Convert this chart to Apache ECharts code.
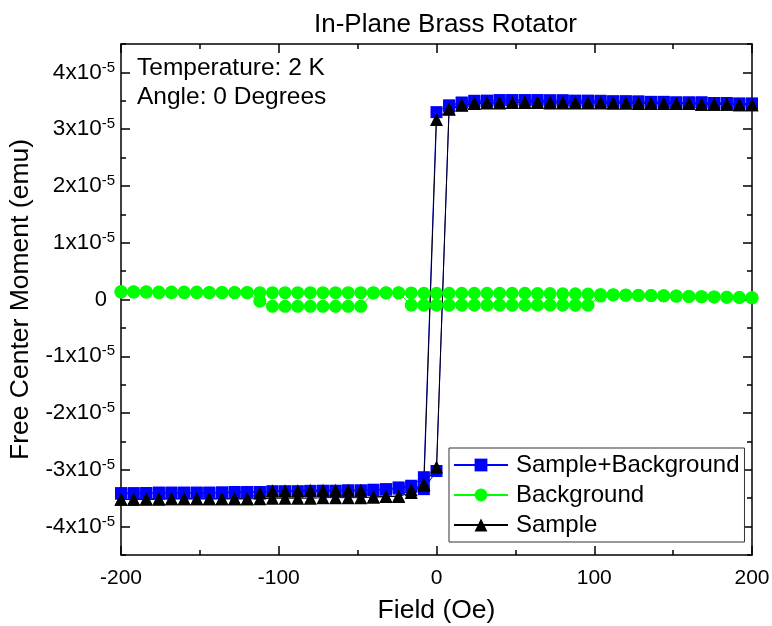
<!DOCTYPE html>
<html><head><meta charset="utf-8">
<script src="https://cdn.jsdelivr.net/npm/echarts@6/dist/echarts.min.js"></script>
<style>html,body{margin:0;padding:0;background:#fff}#c{width:772px;height:626px}</style>
</head><body><div id="c"></div>
<script>
// Field sweeps (Oe)
const fieldDown = [200,192,184,176,168,160,152,144,136,128,120,112,104,96,88,80,72,64,56,48,40,32,24,16,8,0,-8,-16,-24,-32,-40,-48,-56,-64,-72,-80,-88,-96,-104,-112,-120,-128,-136,-144,-152,-160,-168,-176,-184,-192,-200];
const fieldUp = [-200,-192,-184,-176,-168,-160,-152,-144,-136,-128,-120,-112,-104,-96,-88,-80,-72,-64,-56,-48,-40,-32,-24,-16,-8,0,8,16,24,32,40,48,56,64,72,80,88,96,104,112,120,128,136,144,152,160,168,176,184,192,200];

// Moments, in units of 1e-5 emu
const sampleBgDown = [3.45,3.45,3.46,3.46,3.47,3.47,3.47,3.48,3.48,3.48,3.49,3.49,3.49,3.50,3.50,3.50,3.50,3.51,3.51,3.51,3.51,3.50,3.50,3.47,3.42,3.30,-3.13,-3.28,-3.31,-3.34,-3.35,-3.36,-3.36,-3.37,-3.37,-3.37,-3.38,-3.38,-3.38,-3.39,-3.39,-3.39,-3.40,-3.40,-3.40,-3.40,-3.40,-3.40,-3.41,-3.41,-3.41];
const sampleBgUp = [-3.42,-3.42,-3.41,-3.41,-3.41,-3.41,-3.41,-3.41,-3.40,-3.40,-3.40,-3.39,-3.38,-3.38,-3.38,-3.38,-3.37,-3.37,-3.37,-3.37,-3.36,-3.35,-3.33,-3.30,-3.34,-3.02,3.40,3.46,3.49,3.50,3.51,3.51,3.51,3.51,3.51,3.51,3.50,3.50,3.50,3.49,3.49,3.49,3.48,3.48,3.47,3.47,3.47,3.46,3.46,3.45,3.45];

const backgroundDown = [0.03,0.035,0.04,0.045,0.05,0.055,0.06,0.065,0.07,0.075,0.08,0.085,0.09,0.095,0.10,0.10,0.105,0.105,0.11,0.11,0.11,0.11,0.11,0.11,0.11,0.11,0.11,0.115,0.115,0.115,0.115,0.12,0.12,0.12,0.12,0.12,0.12,0.12,0.12,0.12,0.125,0.125,0.125,0.125,0.13,0.13,0.13,0.13,0.135,0.135,0.14];
const backgroundUp = [0.13,0.13,0.13,0.12,0.12,0.12,0.12,0.12,0.12,0.12,0.12,-0.03,-0.12,-0.12,-0.12,-0.12,-0.12,-0.12,-0.12,-0.12,0.12,0.12,0.12,-0.10,-0.10,-0.10,-0.10,-0.10,-0.10,-0.10,-0.10,-0.10,-0.10,-0.10,-0.10,-0.10,-0.10,-0.10,0.06,0.08,0.075,0.07,0.07,0.065,0.06,0.055,0.05,0.045,0.04,0.035,0.03];

const sampleDown = [3.43,3.43,3.44,3.44,3.44,3.45,3.45,3.45,3.45,3.45,3.46,3.46,3.46,3.46,3.46,3.46,3.46,3.47,3.47,3.47,3.46,3.46,3.45,3.42,3.35,3.17,-3.27,-3.40,-3.47,-3.47,-3.48,-3.49,-3.49,-3.49,-3.49,-3.50,-3.50,-3.50,-3.50,-3.51,-3.51,-3.51,-3.51,-3.51,-3.51,-3.51,-3.51,-3.52,-3.52,-3.52,-3.52];
const sampleUp = [-3.52,-3.52,-3.51,-3.51,-3.51,-3.51,-3.51,-3.51,-3.51,-3.51,-3.51,-3.41,-3.37,-3.37,-3.37,-3.36,-3.36,-3.36,-3.36,-3.36,-3.48,-3.47,-3.46,-3.35,-3.25,-2.95,3.36,3.43,3.46,3.47,3.47,3.47,3.48,3.48,3.48,3.47,3.47,3.47,3.47,3.46,3.46,3.46,3.46,3.45,3.45,3.45,3.44,3.44,3.44,3.43,3.43];

const xTicks = [-200,-100,0,100,200];
const yTickLabels = [-4,-3,-2,-1,0,1,2,3,4];
const seriesNames = ['Sample+Background','Background','Sample'];

function loop(down, up) {
  return fieldDown.map((f,i)=>[f, down[i]]).concat(fieldUp.map((f,i)=>[f, up[i]]));
}

const FONT = 'Liberation Sans, Arial, sans-serif';
const black = '#000';
const lineS = {color: black, width: 1.5};

function yAx(pos, tickLen, custom, labels) {
  const a = {
    type:'value', position: pos, min:-4.5, max:4.5, interval:0.5,
    axisLine:{show: !custom, onZero:false, lineStyle: lineS},
    axisTick:{show:true, inside:true, length: tickLen, lineStyle: lineS},
    axisLabel:{show:false},
    splitLine:{show:false}
  };
  if (custom) a.axisTick.customValues = yTickLabels;
  if (labels) {
    a.axisLabel = {
      show:true, customValues: yTickLabels, margin: 6,
      formatter: v => v === 0 ? '{z|0}' : '{b|' + v + 'x10}{s|-5}',
      rich: {
        b:{fontSize:22.5, fontFamily:FONT, color:black, lineHeight:25},
        s:{fontSize:15, fontFamily:FONT, color:black, lineHeight:15, verticalAlign:'top'},
        z:{fontSize:22, fontFamily:FONT, color:black, lineHeight:25, padding:[0,8,0,0]}
      }
    };
    a.name = 'Free Center Moment (emu)';
    a.nameLocation = 'middle';
    a.nameGap = 85;
    a.nameTextStyle = {fontSize:26.5, fontFamily:FONT, color:black};
  }
  return a;
}

function xAx(pos, labels) {
  const a = {
    type:'value', position: pos, min:-200, max:200, interval:100,
    axisLine:{show:true, onZero:false, lineStyle: lineS},
    axisTick:{show:true, inside:true, length:9, lineStyle: lineS},
    minorTick:{show:true, splitNumber:2, length:5, lineStyle: lineS},
    axisLabel:{show: labels, fontSize:21, fontFamily:FONT, color:black, margin:13},
    splitLine:{show:false}
  };
  if (labels) {
    a.name = 'Field (Oe)';
    a.nameLocation = 'middle';
    a.nameGap = 42;
    a.nameTextStyle = {fontSize:26.5, fontFamily:FONT, color:black};
  }
  return a;
}

const chart = echarts.init(document.getElementById('c'), null, {renderer:'canvas'});
chart.setOption({
  animation:false,
  backgroundColor:'#fff',
  title:{text:'In-Plane Brass Rotator', left:309, top:7, textStyle:{fontSize:26, fontWeight:'normal', fontFamily:FONT, color:black}},
  grid:{left:121, right:20, top:44, bottom:71, containLabel:false, outerBoundsMode:'none'},
  xAxis:[xAx('bottom', true), xAx('top', false)],
  yAxis:[yAx('left',5,false,true), yAx('left',9,true,false), yAx('right',5,false,false), yAx('right',9,true,false)],
  legend:{
    data: seriesNames, orient:'vertical', left:449, top:448,
    padding:[5,5,5,4], itemGap:6, itemWidth:54, itemHeight:16,
    borderColor:'#333', borderWidth:1, backgroundColor:'#fff',
    textStyle:{fontSize:24, fontFamily:FONT, color:black, lineHeight:24, padding:[0,0,0,3]},
    selectedMode:false
  },
  graphic:[{
    type:'text', left:137, top:54,
    style:{text:'Temperature: 2 K\nAngle: 0 Degrees', font:'24.5px Liberation Sans, Arial, sans-serif', fill:black, lineHeight:29}
  }],
  series:[
    {name:seriesNames[1], type:'line', data:loop(backgroundDown, backgroundUp), symbol:'circle', symbolSize:13,
     itemStyle:{color:'#00ff00'}, lineStyle:{color:'#00ff00', width:1}, emphasis:{disabled:true}},
    {name:seriesNames[0], type:'line', data:loop(sampleBgDown, sampleBgUp), symbol:'rect', symbolSize:12,
     itemStyle:{color:'#0000ff'}, lineStyle:{color:'#0000ff', width:1}, emphasis:{disabled:true}},
    {name:seriesNames[2], type:'line', data:loop(sampleDown, sampleUp), symbol:'triangle', symbolSize:13,
     itemStyle:{color:'#000'}, lineStyle:{color:'#000', width:1}, emphasis:{disabled:true}}
  ]
});
</script></body></html>
